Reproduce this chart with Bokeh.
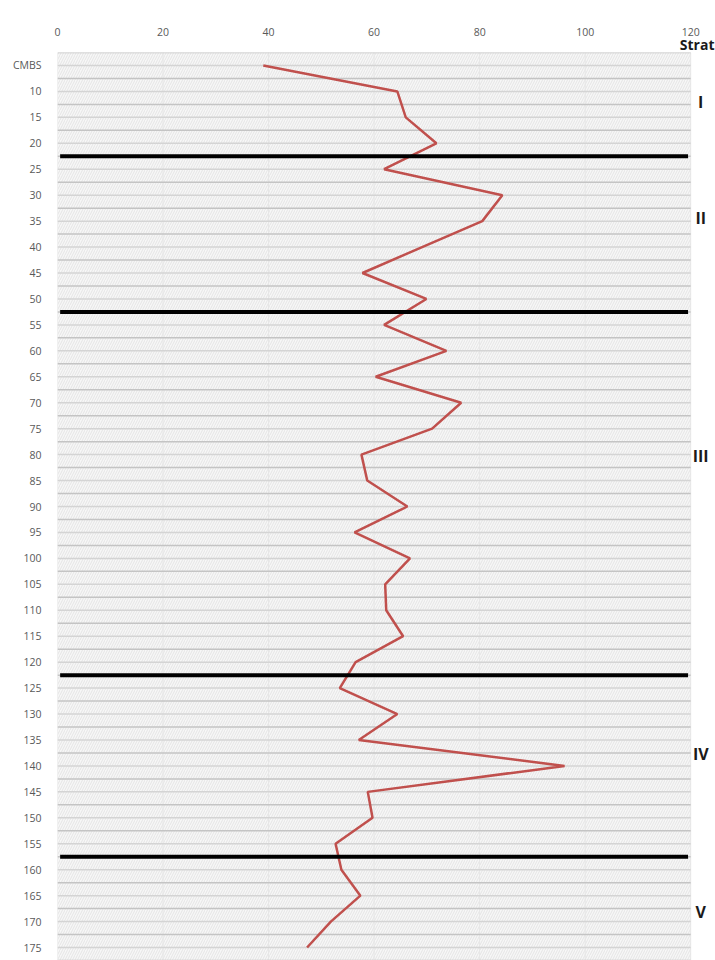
import numpy as np
from bokeh.plotting import figure
from bokeh.models import Range1d, FixedTicker, LinearAxis, ColumnDataSource
from bokeh.core.properties import value
from bokeh.embed import file_html
from bokeh.resources import INLINE

# ---- data ----
depth = [5, 10, 15, 20, 25, 30, 35, 40, 45, 50, 55, 60, 65, 70, 75, 80, 85, 90,
         95, 100, 105, 110, 115, 120, 125, 130, 135, 140, 145, 150, 155, 160,
         165, 170, 175]
depth_labels = ["CMBS"] + [str(d) for d in depth[1:]]
values = [39.0, 64.4, 66.0, 71.8, 61.9, 84.3, 80.5, 69.1, 57.8, 69.9, 61.9,
          73.7, 60.3, 76.5, 71.0, 57.6, 58.7, 66.3, 56.3, 66.8, 62.1, 62.3,
          65.5, 56.5, 53.5, 64.4, 57.1, 96.1, 58.8, 59.7, 52.7, 53.8, 57.4,
          51.8, 47.3]
x_ticks = [0, 20, 40, 60, 80, 100, 120]
boundaries = [22.5, 52.5, 122.5, 157.5]
strata = ["I", "II", "III", "IV", "V"]
strata_depth = [12.1, 34.4, 80.3, 137.7, 168.1]
strat_header = "Strat"

X_MAX = 120
Y_TOP = 2.5
Y_BOT = 177.5
H = 960
STRATA_X = 121.9
HEADER_X = 121.6

p = figure(width=715, height=H, output_backend="svg", toolbar_location=None,
           x_axis_location=None,
           x_range=Range1d(0, 124.7), y_range=Range1d(Y_BOT, Y_TOP),
           min_border_left=57, min_border_right=0, min_border_top=52,
           min_border_bottom=0)
p.outline_line_color = None
p.background_fill_color = "white"
p.border_fill_color = "white"
p.xgrid.visible = False
p.ygrid.visible = False

# hatched plot area
p.quad(left=[0], right=[X_MAX], top=[Y_TOP], bottom=[Y_BOT],
       fill_color="#f7f7f7", line_color=None,
       hatch_pattern="/", hatch_color="#dddddd", hatch_scale=5,
       hatch_weight=0.7)

# vertical gridlines
p.segment(x0=x_ticks, x1=x_ticks, y0=[Y_TOP] * len(x_ticks),
          y1=[Y_BOT] * len(x_ticks), line_color="#e6e6e6", line_width=1)

# horizontal gridlines: at labels and between labels
hy_major = list(np.arange(2.5, 178, 5.0))
hy_minor = list(np.arange(5.0, 178, 5.0))
p.segment(x0=[0] * len(hy_minor), x1=[X_MAX] * len(hy_minor), y0=hy_minor,
          y1=hy_minor, line_color="#d4d4d4", line_width=1.5)
p.segment(x0=[0] * len(hy_major), x1=[X_MAX] * len(hy_major), y0=hy_major,
          y1=hy_major, line_color="#c4c4c4", line_width=1.5)

# data line
src = ColumnDataSource(dict(x=values, y=depth))
p.line("x", "y", source=src, line_color="#c0504d", line_width=2.5)

# strata boundaries
p.segment(x0=[0.5] * len(boundaries), x1=[119.5] * len(boundaries),
          y0=boundaries, y1=boundaries, line_color="black", line_width=4)

# strata labels
ssrc = ColumnDataSource(dict(x=[STRATA_X] * len(strata), y=strata_depth, t=strata))
p.text("x", "y", text="t", source=ssrc, text_align="center",
       text_baseline="middle", text_font=value("Open Sans"),
       text_font_style="bold", text_font_size="16px", text_color="#1a1a1a")

# header axis (innermost, above)
ha = LinearAxis(ticker=FixedTicker(ticks=[HEADER_X]),
                major_label_overrides={HEADER_X: strat_header})
ha.axis_line_color = None
ha.major_tick_line_color = None
ha.minor_tick_line_color = None
ha.major_label_standoff = -7
ha.major_label_text_font = "Open Sans"
ha.major_label_text_font_style = "bold"
ha.major_label_text_font_size = "14px"
ha.major_label_text_color = "#1a1a1a"
p.add_layout(ha, "above")

# numeric x axis (outer, above)
xa = LinearAxis(ticker=FixedTicker(ticks=x_ticks))
xa.axis_line_color = None
xa.major_tick_line_color = None
xa.minor_tick_line_color = None
xa.major_label_standoff = -10
xa.major_label_text_font = "Open Sans"
xa.major_label_text_font_size = "10.5px"
xa.major_label_text_color = "#595959"
p.add_layout(xa, "above")

ya = p.yaxis[0]
ya.ticker = FixedTicker(ticks=depth)
ya.major_label_overrides = {d: l for d, l in zip(depth, depth_labels)}
ya.axis_line_color = None
ya.major_tick_line_color = None
ya.minor_tick_line_color = None
ya.major_label_standoff = 10
ya.major_label_text_font = "Open Sans"
ya.major_label_text_font_size = "10.5px"
ya.major_label_text_color = "#595959"

open("out.html", "w").write(file_html(p, INLINE))
